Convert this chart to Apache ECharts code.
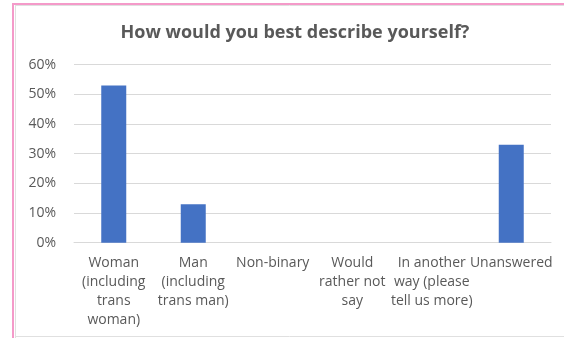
<!DOCTYPE html>
<html>
<head>
<meta charset="utf-8">
<script src="https://cdn.jsdelivr.net/npm/echarts@6/dist/echarts.min.js"></script>
<style>
html,body{margin:0;padding:0;background:#fff;}
#chart{width:564px;height:338px;}
</style>
</head>
<body>
<div id="chart"></div>
<script>
var titleText = 'How would you best describe yourself?';
var categories = [
  'Woman\n(including\ntrans\nwoman)',
  'Man\n(including\ntrans man)',
  'Non-binary',
  'Would\nrather not\nsay',
  'In another\nway (please\ntell us more)',
  'Unanswered'
];
var values = [0.53, 0.13, 0, 0, 0, 0.33];
var yTicks = [0, 0.1, 0.2, 0.3, 0.4, 0.5, 0.6];

var chart = echarts.init(document.getElementById('chart'), null, {renderer: 'canvas'});
var font = '"Open Sans", sans-serif';
chart.setOption({
  animation: false,
  backgroundColor: '#fff',
  title: {
    text: titleText,
    left: 290,
    textAlign: 'center',
    top: 19,
    textStyle: {fontFamily: font, fontSize: 18, fontWeight: 'bold', color: '#595959'}
  },
  grid: {left: 74, right: 13, top: 64.7, bottom: 95.3, containLabel: false},
  xAxis: {
    type: 'category',
    data: categories,
    axisLine: {lineStyle: {color: '#d9d9d9', width: 1}},
    axisTick: {show: false},
    axisLabel: {interval: 0, fontFamily: font, fontSize: 14, color: '#595959', lineHeight: 19, margin: 11, align: 'center'}
  },
  yAxis: {
    type: 'value',
    min: yTicks[0],
    max: yTicks[yTicks.length - 1],
    interval: 0.1,
    axisLine: {show: false},
    axisTick: {show: false},
    splitLine: {lineStyle: {color: '#d9d9d9', width: 1}},
    axisLabel: {
      fontFamily: font, fontSize: 14, color: '#595959', margin: 18,
      formatter: function (v) { return Math.round(v * 100) + '%'; }
    }
  },
  series: [{
    type: 'bar',
    data: values,
    barWidth: 25,
    itemStyle: {color: '#4472c4'}
  }],
  graphic: [
    {type: 'line', shape: {x1: 15, y1: 5.5, x2: 564, y2: 5.5}, style: {stroke: '#e0e0e0', lineWidth: 1}},
    {type: 'line', shape: {x1: 15.5, y1: 5, x2: 15.5, y2: 338}, style: {stroke: '#e0e0e0', lineWidth: 1}},
    {type: 'line', shape: {x1: 15, y1: 336.5, x2: 564, y2: 336.5}, style: {stroke: '#e0e0e0', lineWidth: 1}},
    {type: 'line', shape: {x1: 12, y1: 4, x2: 564, y2: 4}, style: {stroke: '#f49ac9', lineWidth: 2}},
    {type: 'line', shape: {x1: 13, y1: 3, x2: 13, y2: 338}, style: {stroke: '#f49ac9', lineWidth: 2}}
  ]
});
</script>
</body>
</html>
